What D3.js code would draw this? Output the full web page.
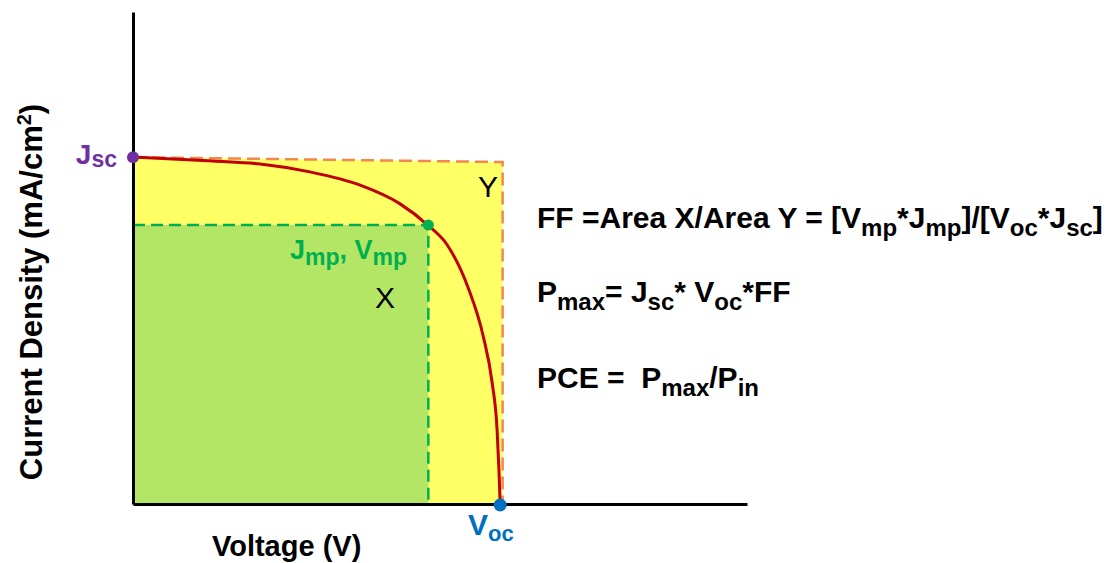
<!DOCTYPE html>
<html>
<head>
<meta charset="utf-8">
<script src="https://cdn.jsdelivr.net/npm/d3@7"></script>
<style>
  body { margin: 0; background: #fff; }
  text { font-family: "Liberation Sans", Arial, sans-serif; white-space: pre; }
</style>
</head>
<body>
<div id="chart"></div>
<script>
// J-V curve, normalised units (voltage 0..1, current density 0..1)
var curveV = [0.000, 0.130, 0.207, 0.288, 0.370, 0.435, 0.480, 0.511, 0.546, 0.570, 0.585, 0.593, 0.596, 0.598];
var curveJ = [0.705, 0.697, 0.691, 0.675, 0.648, 0.610, 0.567, 0.528, 0.439, 0.343, 0.246, 0.150, 0.069, 0.000];

// key points
var jsc = 0.705, voc = 0.598;
var vmp = 0.481, jmp = 0.567;
// outer box "Y" (top edge drawn slightly sloped in the original)
var boxV = [0, 0.602, 0.602];
var boxJ = [0.705, 0.695, 0];

var eqLines = [
  [["FF =Area X/Area Y = [V", 0], ["mp", 1], ["*J", 0], ["mp", 1], ["]/[V", 0], ["oc", 1], ["*J", 0], ["sc", 1], ["]", 0]],
  [["P", 0], ["max", 1], ["= J", 0], ["sc", 1], ["* V", 0], ["oc", 1], ["*FF", 0]],
  [["PCE =  P", 0], ["max", 1], ["/P", 0], ["in", 1]]
];

var width = 1114, height = 563;
var svg = d3.select("#chart").append("svg").attr("width", width).attr("height", height);

var x = d3.scaleLinear().domain([0, 1]).range([133, 747]);
var y = d3.scaleLinear().domain([0, 1]).range([504, 12]);

var pts = curveV.map(function (v, i) { return [v, curveJ[i]]; });
var boxPts = boxV.map(function (v, i) { return [v, boxJ[i]]; });

// yellow area Y
svg.append("path")
  .attr("d", d3.line().x(function (d) { return x(d[0]); }).y(function (d) { return y(d[1]); })(
    [[0, 0]].concat(boxPts).concat([[0, 0]])))
  .attr("fill", "#ffff66");

// green area X
svg.append("rect")
  .attr("x", x(0)).attr("y", y(jmp))
  .attr("width", x(vmp) - x(0)).attr("height", y(0) - y(jmp))
  .attr("fill", "#b3e665");

// dashed outlines
svg.append("path")
  .attr("d", d3.line().x(function (d) { return x(d[0]); }).y(function (d) { return y(d[1]); })(boxPts))
  .attr("fill", "none").attr("stroke", "#f4874b").attr("stroke-width", 2.5)
  .attr("stroke-dasharray", "13,6");

svg.append("path")
  .attr("d", d3.line().x(function (d) { return x(d[0]); }).y(function (d) { return y(d[1]); })(
    [[0, jmp], [vmp, jmp], [vmp, 0]]))
  .attr("fill", "none").attr("stroke", "#00b050").attr("stroke-width", 2.5)
  .attr("stroke-dasharray", "12,6");

// axes
svg.append("g").attr("transform", "translate(0," + y(0) + ")")
  .call(d3.axisBottom(x).ticks(0).tickSize(0).tickSizeOuter(0));
svg.append("g").attr("transform", "translate(" + x(0) + ",0)")
  .call(d3.axisLeft(y).ticks(0).tickSize(0).tickSizeOuter(0));
svg.selectAll(".domain").attr("stroke", "#000").attr("stroke-width", 3);

// J-V curve
svg.append("path")
  .attr("d", d3.line().curve(d3.curveMonotoneX)
    .x(function (d) { return x(d[0]); }).y(function (d) { return y(d[1]); })(pts))
  .attr("fill", "none").attr("stroke", "#c00000").attr("stroke-width", 3);

// points
svg.append("circle").attr("cx", x(0)).attr("cy", y(jsc)).attr("r", 6).attr("fill", "#7030a0");
svg.append("circle").attr("cx", x(vmp)).attr("cy", y(jmp)).attr("r", 5.5).attr("fill", "#00b050");
svg.append("circle").attr("cx", x(voc)).attr("cy", y(0) + 1).attr("r", 6.5).attr("fill", "#0070c0");

// rich text helper: parts [text, isSub]
function rich(px, py, parts, size, subSize, shift, color, weight, anchor) {
  var t = svg.append("text").attr("x", px).attr("y", py)
    .attr("font-size", size).attr("font-weight", weight).attr("fill", color)
    .attr("text-anchor", anchor || "start");
  var prev = 0;
  parts.forEach(function (p) {
    var s = p[1] ? shift : 0;
    t.append("tspan").attr("dy", s - prev)
      .attr("font-size", p[1] ? subSize : size).text(p[0]);
    prev = s;
  });
  return t;
}

rich(117, 164, [["J", 0], ["sc", 1]], 28, 23, 3, "#7030a0", "bold", "end");
rich(290, 259, [["J", 0], ["mp", 1], [", V", 0], ["mp", 1]], 27, 23, 6, "#00b050", "bold");
rich(468, 535, [["V", 0], ["oc", 1]], 30, 22, 6, "#0070c0", "bold");

svg.append("text").attr("x", 478).attr("y", 197).attr("font-size", 30).text("Y");
svg.append("text").attr("x", 375).attr("y", 308).attr("font-size", 30).text("X");

var eqY = [228, 302, 388];
eqLines.forEach(function (line, i) {
  rich(537, eqY[i], line, 30, 24, 8, "#000", "bold");
});

// axis titles
svg.append("text").attr("x", 212).attr("y", 556)
  .attr("font-size", 29).attr("font-weight", "bold").text("Voltage (V)");

var yl = svg.append("text").attr("transform", "translate(42,292) rotate(-90)")
  .attr("text-anchor", "middle").attr("font-size", 31).attr("font-weight", "bold");
yl.append("tspan").text("Current Density (mA/cm");
yl.append("tspan").attr("dy", -11).attr("font-size", 20).text("2");
yl.append("tspan").attr("dy", 11).text(")");
</script>
</body>
</html>
